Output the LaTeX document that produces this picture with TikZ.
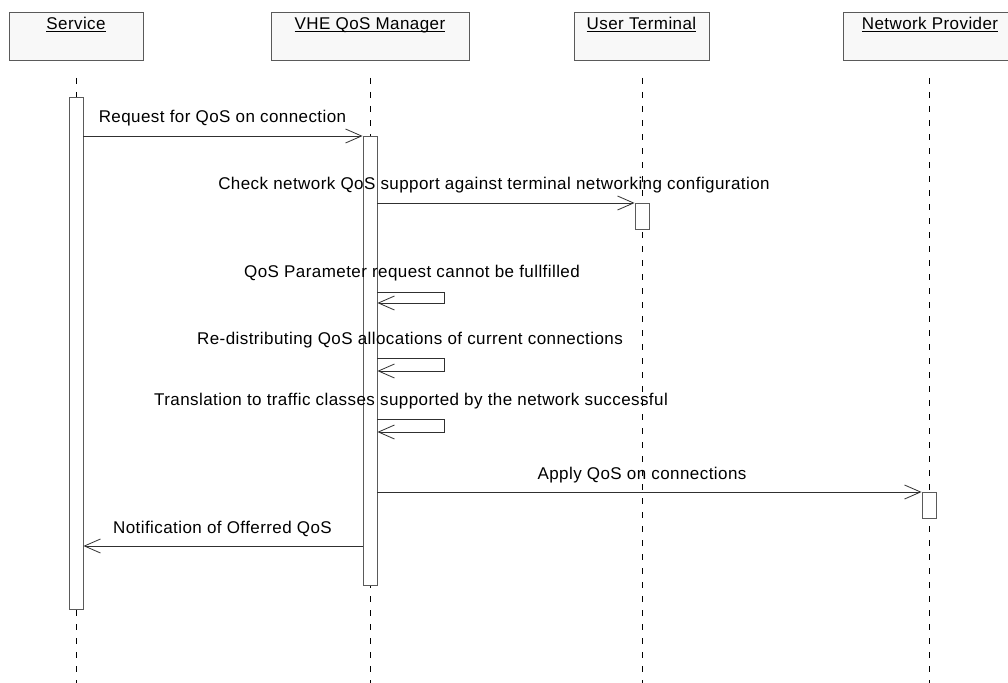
\documentclass[tikz,border=0pt]{standalone}
\usepackage{fontspec}
\setmainfont{Liberation Sans}[LetterSpace=2.5]
\usetikzlibrary{arrows.meta,calc}
\definecolor{boxfill}{HTML}{F8F8F8}
\definecolor{boxline}{HTML}{5A5A5A}
\definecolor{msgline}{HTML}{303030}
\newcommand\ulbl[1]{\setbox0\hbox{#1}\rlap{\rule[-2.2pt]{\wd0}{0.9pt}}\box0}
\begin{document}
\begin{tikzpicture}[x=1pt,y=-1pt,
  txt/.style={font=\fontsize{17}{20}\selectfont, inner sep=0pt},
  headbox/.style={draw=boxline, fill=boxfill, line width=0.9pt, minimum height=48pt, inner sep=0pt},
  actbox/.style={draw=boxline, fill=white, line width=0.9pt, minimum width=14pt, inner sep=0pt},
  lifeline/.style={draw=black, line width=0.8pt, dash pattern=on 6pt off 8pt},
  msg/.style={draw=msgline, line width=0.8pt, -{Straight Barb[length=16pt,width=14pt,line width=0.8pt]}},
  lbl/.style={txt, anchor=base}
]
\clip (0,0) rectangle (1008,682);
\useasboundingbox (0,0) rectangle (1008,682);
\fill[white] (0,0) rectangle (1008,682);

% header boxes
\node[headbox, minimum width=134pt] (hS) at (76,36) {};
\node[headbox, minimum width=198pt] (hV) at (370,36) {};
\node[headbox, minimum width=135pt] (hU) at (641.5,36) {};
\node[headbox, minimum width=174pt] (hN) at (930,36) {};
\node[lbl] (tS) at (76,30) {\ulbl{Service}};
\node[lbl] (tV) at (370,30) {\ulbl{VHE QoS Manager}};
\node[lbl] (tU) at (641.5,30) {\ulbl{User Terminal}};
\node[lbl] (tN) at (930,30) {\ulbl{Network Provider}};

% lifeline coordinates
\coordinate (lS0) at (76,78);  \coordinate (lS1) at (76,690);
\coordinate (lV0) at (370,78); \coordinate (lV1) at (370,690);
\coordinate (lU0) at (642,78); \coordinate (lU1) at (642,690);
\coordinate (lN0) at (929,78); \coordinate (lN1) at (929,690);
\draw[lifeline] (lS0) -- (lS1);
\draw[lifeline] (lV0) -- (lV1);
\draw[lifeline] (lU0) -- (lU1);
\draw[lifeline] (lN0) -- (lN1);

% activations
\node[actbox, minimum height=512pt] (aS) at (76,353) {};
\node[actbox, minimum height=449pt] (aV) at (370,360.5) {};
\node[actbox, minimum height=26pt] (aU) at (642,216) {};
\node[actbox, minimum height=26pt] (aN) at (929,505) {};

% message levels
\coordinate (y1) at (0,136);
\coordinate (y2) at (0,203);
\coordinate (y3) at (0,292);
\coordinate (y3b) at (0,303);
\coordinate (y4) at (0,358);
\coordinate (y4b) at (0,371);
\coordinate (y5) at (0,419);
\coordinate (y5b) at (0,432);
\coordinate (y6) at (0,492);
\coordinate (y7) at (0,546);

% messages
\draw[msg] (aS.east |- y1) -- (aV.west |- y1);
\node[lbl] (m1) at (222.5,122) {Request for QoS on connection};

\draw[msg] (aV.east |- y2) -- (aU.west |- y2);
\node[lbl] (m2) at (494,189) {Check network QoS support against terminal networking configuration};

\draw[msg] (aV.east |- y3) -- ++(67,0) -- ++(0,11) -- (aV.east |- y3b);
\node[lbl] (m3) at (412,277) {QoS Parameter request cannot be fullfilled};

\draw[msg] (aV.east |- y4) -- ++(67,0) -- ++(0,13) -- (aV.east |- y4b);
\node[lbl] (m4) at (410,344) {Re-distributing QoS allocations of current connections};

\draw[msg] (aV.east |- y5) -- ++(67,0) -- ++(0,13) -- (aV.east |- y5b);
\node[lbl] (m5) at (411,405) {Translation to traffic classes supported by the network successful};

\draw[msg] (aV.east |- y6) -- (aN.west |- y6);
\node[lbl] (m6) at (642,479) {Apply QoS on connections};

\draw[msg] (aV.west |- y7) -- (aS.east |- y7);
\node[lbl] (m7) at (222.5,533) {Notification of Offerred QoS};
\end{tikzpicture}
\end{document}
